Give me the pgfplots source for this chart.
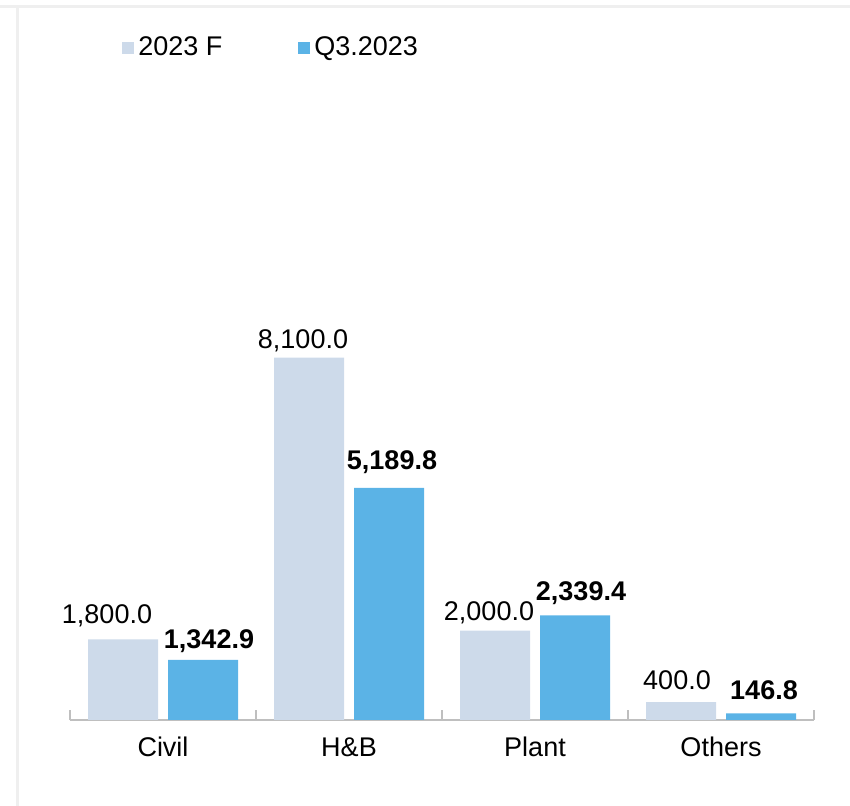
\documentclass[border=0pt]{standalone}
\usepackage{pgfplots}
\usepackage{pgfplotstable}
\pgfplotsset{compat=1.18}
\usepackage{fontspec}
\setmainfont{Liberation Sans}
\definecolor{lightbar}{HTML}{CDDAEA}
\definecolor{bluebar}{HTML}{5BB3E6}
\definecolor{axgray}{HTML}{BFBFBF}
\definecolor{framegray}{HTML}{EFEFEF}

\pgfplotstableread{
x y dx dy
0 1800 -8 8.05
1 8100 -3 4.6
2 2000 -3 5.25
3 400 -2 6.4
}\forecast
\pgfplotstableread{
x y dx dy
0 1342.9 3 5.8
1 5189.8 1.5 9.25
2 2339.4 3 7.65
3 146.8 1.5 7.05
}\actual

\begin{document}
\begin{tikzpicture}[font=\fontsize{13.5bp}{16bp}\selectfont]
\useasboundingbox (0,0) rectangle (425bp,403bp);
\draw[framegray, line width=1.5bp] (0,399.5bp) -- (425bp,399.5bp);
\draw[framegray, line width=1.5bp] (8.5bp,0) -- (8.5bp,399.5bp);
\begin{axis}[
  at={(35bp,43bp)}, anchor=south west, scale only axis,
  width=372bp, height=310bp,
  xmin=-0.5, xmax=3.5, ymin=0, ymax=13855,
  enlargelimits=false,
  ybar=5bp, bar width=35bp,
  axis y line=none, axis x line=bottom,
  x axis line style={axgray, line width=1bp, -},
  xtick={0,1,2,3}, xticklabels={Civil,H\&B,Plant,Others},
  major tick length=0pt,
  minor xtick={-0.5,0.5,1.5,2.5,3.5}, minor tick length=5bp,
  tick align=inside,
  xtick style={axgray, line width=0.8bp},
  xticklabel style={anchor=base, yshift=-18bp, font=\fontsize{13.5bp}{16bp}\selectfont},
  /pgf/number format/.cd, fixed, fixed zerofill, precision=1, 1000 sep={,}, assume math mode=true,
  /pgfplots/.cd,
  nodes near coords,
  legend style={draw=none, fill=none, at={(0.0699,1.0839)}, anchor=west,
    inner sep=0pt, legend columns=2,
    /tikz/every even column/.append style={column sep=36bp},
    font=\fontsize{13.5bp}{16bp}\selectfont},
  legend image code/.code={\fill[#1,draw=none] (0bp,-3bp) rectangle (6bp,3bp);},
]
\addplot[fill=lightbar, draw=none,
  visualization depends on={\thisrow{dx} \as \dx},
  visualization depends on={\thisrow{dy} \as \dy},
  nodes near coords style={anchor=base, xshift=\dx bp, yshift=\dy bp, text=black, inner sep=0pt,
    font=\fontsize{13.5bp}{16bp}\selectfont}]
  table[x=x, y=y] {\forecast};
\addlegendentry{2023 F}
\addplot[fill=bluebar, draw=none,
  visualization depends on={\thisrow{dx} \as \dx},
  visualization depends on={\thisrow{dy} \as \dy},
  nodes near coords style={anchor=base, xshift=\dx bp, yshift=\dy bp, text=black, inner sep=0pt,
    font=\fontsize{13.5bp}{16bp}\selectfont\bfseries}]
  table[x=x, y=y] {\actual};
\addlegendentry{Q3.2023}
\end{axis}
\end{tikzpicture}
\end{document}
